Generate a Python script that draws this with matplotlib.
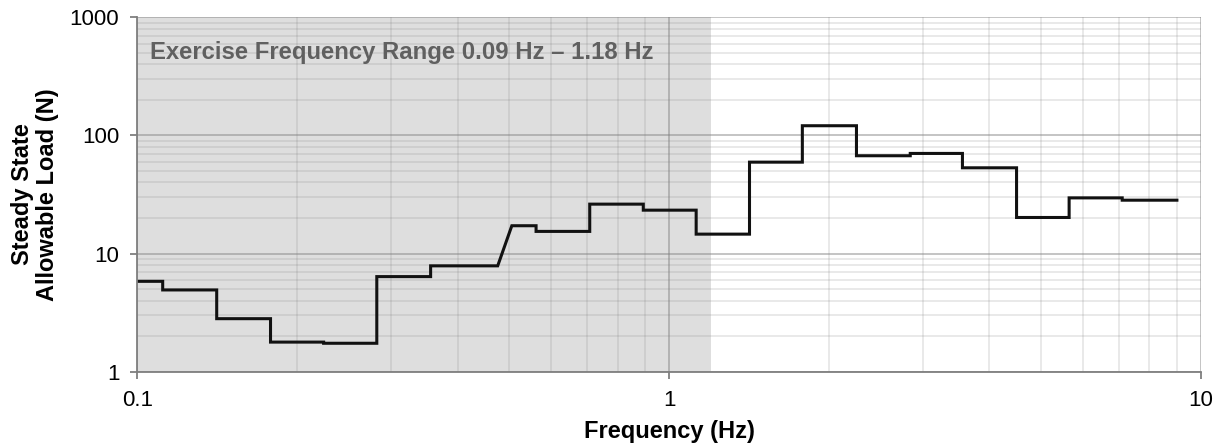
import numpy as np
import matplotlib
matplotlib.use("Agg")
import matplotlib.pyplot as plt
from matplotlib.ticker import LogLocator, FuncFormatter, NullFormatter

plt.rcParams['font.family'] = ['Liberation Sans', 'DejaVu Sans']

# Step curve vertices (frequency in Hz, load in N)
freq_hz = [0.1, 0.1116, 0.1116, 0.141, 0.141, 0.178, 0.178, 0.224, 0.224, 0.282,
           0.282, 0.356, 0.356, 0.476, 0.506, 0.562, 0.562, 0.709, 0.709, 0.894,
           0.894, 1.124, 1.124, 1.416, 1.416, 1.78, 1.78, 2.25, 2.25, 2.84,
           2.84, 3.56, 3.56, 4.50, 4.50, 5.65, 5.65, 7.11, 7.11, 9.01]
load_n = [5.82, 5.82, 4.92, 4.92, 2.81, 2.81, 1.78, 1.78, 1.74, 1.74,
          6.38, 6.38, 7.87, 7.87, 17.2, 17.2, 15.4, 15.4, 26.2, 26.2,
          23.3, 23.3, 14.6, 14.6, 59.4, 59.4, 120.8, 120.8, 67.3, 67.3,
          70.4, 70.4, 53.2, 53.2, 20.2, 20.2, 29.6, 29.6, 28.3, 28.3]

# Exercise frequency band (shaded)
band_start = 0.09
band_end = 1.2
band_label = "Exercise Frequency Range 0.09 Hz \u2013 1.18 Hz"

fig = plt.figure(figsize=(12.23, 4.47), dpi=100)
ax = fig.add_axes([0.1123, 0.1685, 0.8697, 0.7928])

ax.set_xscale('log')
ax.set_yscale('log')
ax.set_xlim(0.1, 10)
ax.set_ylim(1, 1000)

# shaded band behind everything
ax.axvspan(band_start, band_end, color='#dedede', zorder=0, lw=0)

# grid
ax.xaxis.set_major_locator(LogLocator(base=10))
ax.yaxis.set_major_locator(LogLocator(base=10))
ax.xaxis.set_minor_locator(LogLocator(base=10, subs=np.arange(2, 10)))
ax.yaxis.set_minor_locator(LogLocator(base=10, subs=np.arange(2, 10)))
ax.grid(True, which='minor', color='#808080', alpha=0.2, lw=1.2, zorder=1)
ax.grid(True, which='major', color='#808080', alpha=0.5, lw=1.3, zorder=1)
ax.set_axisbelow(True)

# curve
ax.plot(freq_hz, load_n, color='#111111', lw=2.2, zorder=3,
        solid_joinstyle='miter')

# band label
ax.text(0.012, 0.9, band_label, transform=ax.transAxes, ha='left', va='center',
        fontsize=17.2, fontweight='bold', color='#606060', zorder=4)

# axes styling
for side in ['top', 'right']:
    ax.spines[side].set_visible(False)
for side in ['left', 'bottom']:
    ax.spines[side].set_color('#7f7f7f')
    ax.spines[side].set_linewidth(1.3)
    ax.spines[side].set_zorder(5)

fmt = FuncFormatter(lambda v, p: '%g' % v)
ax.xaxis.set_major_formatter(fmt)
ax.yaxis.set_major_formatter(fmt)
ax.xaxis.set_minor_formatter(NullFormatter())
ax.yaxis.set_minor_formatter(NullFormatter())
ax.tick_params(which='major', direction='out', length=5, width=1.3, color='#7f7f7f',
               labelsize=16, pad=8)
ax.tick_params(which='minor', length=0)

ax.set_xlabel('Frequency (Hz)', fontsize=17, fontweight='bold', labelpad=7)
ax.set_ylabel('Steady State\nAllowable Load (N)', fontsize=17, fontweight='bold',
              labelpad=8, linespacing=1.1)

fig.savefig('out.png', dpi=100)
